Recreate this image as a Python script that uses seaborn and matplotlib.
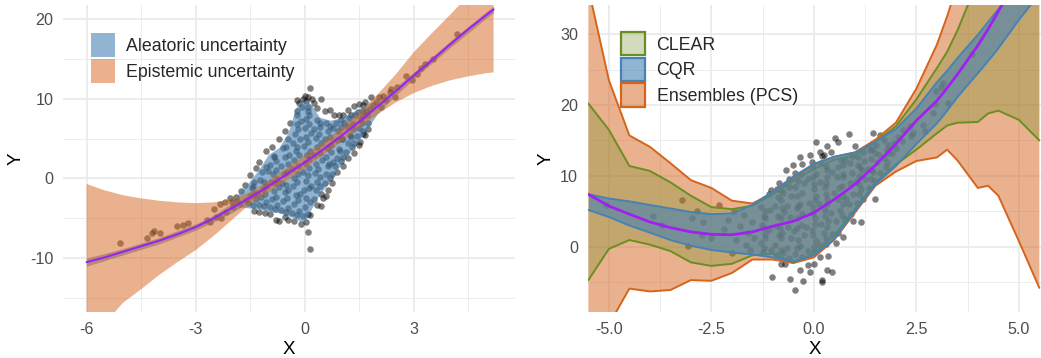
import matplotlib
matplotlib.use("Agg")
import matplotlib.pyplot as plt
import seaborn as sns
from matplotlib.patches import Patch
from matplotlib.colors import to_rgba

# ---- left panel: fitted curve, aleatoric + epistemic bands ----
fit_x = [-6, -5.5, -5, -4.5, -4, -3.5, -3, -2.5, -2, -1.5, -1, -0.5, 0, 0.5,
         1, 1.5, 2, 2.5, 3, 3.5, 4, 4.5, 5, 5.2]
fit_y = [-10.5, -9.9, -9.2, -8.5, -7.8, -7.0, -6.1, -5.0, -3.7, -2.4, -1.0, 0.5,
         2.0, 3.6, 5.3, 7.1, 9.0, 10.9, 12.9, 14.8, 16.8, 18.7, 20.5, 21.2]
epi_lo = [-20.5, -18.2, -15.6, -13.9, -12.1, -10.5, -9.0, -7.2, -5.2, -3.2, -1.8, -0.3,
          1.2, 2.9, 4.5, 6.3, 8.0, 9.5, 10.7, 11.6, 12.3, 12.8, 13.2, 13.3]
epi_hi = [-0.7, -1.5, -2.1, -2.5, -2.8, -3.0, -3.1, -3.0, -2.6, -1.7, -0.3, 1.3,
          2.9, 4.5, 6.3, 8.3, 10.5, 13.0, 15.8, 18.2, 20.5, 22.9, 25.3, 26.3]

ale_x = [-6, -5, -4, -3, -2.5, -2.0, -1.75, -1.5, -1.25, -1.0, -0.7, -0.45, -0.25,
         -0.1, 0.05, 0.2, 0.4, 0.7, 1.0, 1.3, 1.5, 1.75, 2.0, 2.3, 2.6, 3, 4, 5, 5.2]
ale_lo = [-11.0, -9.6, -8.2, -6.5, -5.4, -4.3, -3.6, -3.7, -3.85, -4.1, -4.3, -4.7, -5.0,
          -5.5, -5.1, -3.7, -2.1, -0.3, 1.8, 3.6, 4.8, 6.4, 8.1, 9.5, 10.8, 12.5, 16.4, 20.1, 20.8]
ale_hi = [-10.0, -8.8, -7.4, -5.7, -4.6, -3.1, -1.5, -0.3, 1.2, 3.0, 3.9, 5.8, 8.8,
          9.6, 9.8, 9.2, 7.7, 7.3, 7.6, 8.3, 8.8, 9.4, 9.7, 10.7, 11.8, 13.3, 17.2, 20.9, 21.6]

left_points = [
    # left tail
    (-5.08, -8.07), (-4.35, -7.45), (-4.21, -6.86), (-4.15, -6.65), (-3.98, -6.86),
    (-3.52, -5.95), (-3.34, -5.8), (-3.2, -5.6), (-2.7, -5.27), (-2.61, -5.5),
    (-2.5, -3.8), (-2.43, -4.86), (-2.34, -3.2), (-2.3, -4.9), (-2.2, -3.0),
    (-2.15, -4.2), (-2.06, -2.5), (-1.97, -3.6), (-1.88, -2.3), (-1.79, -3.2),
    (-2.0, -3.0), (-1.85, -2.8),
    # right tail
    (4.19, 18.15), (3.53, 15.0), (3.32, 14.3), (3.19, 13.8), (3.09, 13.05),
    (2.95, 12.4), (2.79, 12.8), (2.54, 11.5), (2.38, 11.25), (2.34, 10.8),
    (2.17, 10.4), (2.06, 10.2), (1.97, 9.6), (1.88, 9.2), (1.83, 10.2),
    (1.79, 8.75), (1.7, 8.4), (1.6, 9.2), (1.53, 4.55), (1.74, 6.2),
    (2.5, 10.2), (2.25, 9.8), (2.1, 8.9),
    # centre cloud
    (-1.55, -3.1), (-1.5, -2.2), (-1.45, -1.2), (-1.6, -2.7), (-1.4, -0.5),
    (-1.25, -3.3), (-1.2, -2.3), (-1.15, -1.3), (-1.22, -0.2), (-1.18, 0.8), (-1.3, -1.8),
    (-0.95, -3.6), (-0.9, -2.6), (-0.85, -1.6), (-0.92, -0.5), (-0.88, 0.6), (-0.95, 1.7),
    (-0.85, 2.7), (-0.65, -3.9), (-0.6, -2.8), (-0.55, -1.7), (-0.62, -0.6), (-0.58, 0.5),
    (-0.66, 1.6), (-0.55, 2.7), (-0.6, 3.8), (-0.7, -1.1),
    (-0.35, -4.3), (-0.3, -3.2), (-0.25, -2.1), (-0.32, -1.0), (-0.28, 0.1), (-0.35, 1.2),
    (-0.3, 2.3), (-0.25, 3.4), (-0.33, 4.5), (-0.27, 5.6), (-0.22, 6.8), (-0.2, 7.9),
    (-0.05, -4.7), (0.0, -3.6), (0.05, -2.5), (-0.02, -1.4), (0.03, -0.3), (-0.04, 0.8),
    (0.02, 1.9), (0.06, 3.0), (-0.03, 4.1), (0.04, 5.2), (0.0, 6.3), (0.05, 7.4),
    (0.08, 8.5), (-0.08, 9.0),
    (0.25, -2.6), (0.3, -1.5), (0.35, -0.4), (0.28, 0.7), (0.32, 1.8), (0.26, 2.9),
    (0.34, 4.0), (0.3, 5.1), (0.27, 6.2), (0.33, 7.3),
    (0.55, -0.6), (0.6, 0.5), (0.65, 1.6), (0.58, 2.7), (0.62, 3.8), (0.56, 4.9),
    (0.64, 6.0), (0.6, 6.9), (0.85, 1.5), (0.9, 2.6), (0.95, 3.7), (0.88, 4.8),
    (0.92, 5.9), (0.87, 6.9), (1.15, 3.3), (1.2, 4.4), (1.25, 5.5), (1.18, 6.6),
    (1.22, 7.6), (1.45, 5.3), (1.5, 6.3), (1.55, 7.4), (1.48, 8.3), (1.75, 6.9), (1.72, 8.0),
    (-1.35, -2.6), (-1.05, -2.9), (-1.05, -0.9), (-1.0, 0.9), (-0.75, -3.3), (-0.75, -0.1),
    (-0.78, 2.2), (-0.45, -3.7), (-0.45, -1.5), (-0.48, 0.8), (-0.42, 3.0), (-0.45, 5.0),
    (-0.15, -4.1), (-0.12, -1.9), (-0.18, 0.6), (-0.15, 2.9), (-0.12, 5.0), (-0.1, 7.2),
    (0.15, -3.0), (0.18, -0.9), (0.12, 1.3), (0.15, 3.5), (0.18, 5.7), (0.12, 7.9),
    (0.45, -1.9), (0.42, 0.2), (0.48, 2.3), (0.45, 4.4), (0.42, 6.5), (0.75, 0.5),
    (0.78, 2.1), (0.72, 4.2), (0.78, 6.3), (1.05, 2.7), (1.02, 4.9), (1.08, 7.0),
    (1.35, 4.4), (1.32, 6.2), (1.38, 7.9), (1.62, 6.0), (1.6, 7.8),
    (-1.42, -3.3), (-1.38, -2.0), (-1.41, -0.9), (-1.12, -3.5), (-1.08, -2.0),
    (-1.11, -0.4), (-1.07, 1.4), (-0.82, -3.8), (-0.79, -2.3), (-0.81, -0.6),
    (-0.78, 1.0), (-0.83, 2.8), (-0.52, -4.2), (-0.49, -2.5), (-0.51, -0.8),
    (-0.47, 1.8), (-0.52, 3.9), (-0.21, -4.6), (-0.18, -2.7), (-0.22, -0.4),
    (-0.19, 1.6), (-0.21, 4.0), (-0.17, 6.2), (-0.2, 8.4), (0.1, -4.4), (0.12, -1.2),
    (0.08, 0.4), (0.11, 2.5), (0.09, 4.6), (0.12, 6.8), (0.1, 8.9), (0.41, -1.0),
    (0.38, 1.2), (0.42, 3.2), (0.39, 5.6), (0.41, 7.0), (0.71, 0.1), (0.68, 1.8),
    (0.72, 3.3), (0.69, 5.2), (0.71, 6.6), (1.01, 2.2), (0.98, 3.5), (1.02, 5.0),
    (0.99, 6.4), (1.01, 7.3), (1.31, 4.0), (1.28, 5.2), (1.32, 6.8), (1.29, 7.9),
    (1.61, 5.6), (1.58, 6.9), (1.6, 8.5),
    # centre outliers
    (-0.05, 9.9), (0.0, 10.4), (0.05, 9.7), (0.1, 10.2), (0.15, 11.4), (0.2, 10.0),
    (-0.15, 9.4), (-0.2, 9.8), (0.25, 9.5), (0.35, 8.8), (0.45, 10.0), (0.55, 8.4),
    (0.7, 8.6), (0.8, 7.9), (0.95, 8.0), (1.05, 7.9), (1.2, 8.6), (1.35, 9.1),
    (1.5, 9.3), (1.65, 9.6), (-0.4, 7.0), (-0.55, 6.0), (-0.7, 5.0), (-0.9, 4.0),
    (-1.05, 3.4), (-1.25, 2.0), (-1.35, 1.3), (-1.5, 0.4), (-1.65, -0.8), (-1.75, -1.6),
    (-0.3, -5.3), (-0.45, -5.2), (-0.55, -4.8), (-0.7, -5.3), (-0.8, -5.2), (-0.95, -4.5),
    (-1.1, -4.3), (-1.25, -4.2), (-1.4, -4.1), (-0.1, -5.7), (0.05, -5.5), (0.15, -4.6),
    (0.09, -6.7), (0.14, -8.8), (0.35, -3.3), (0.5, -2.4), (0.65, -1.5), (0.75, -0.6),
    (0.9, 0.8), (1.05, 1.5), (1.2, 2.6), (1.35, 3.2), (1.5, 4.2), (1.65, 5.4),
    (0.6, -2.2), (0.45, -3.5),
]

# ---- right panel: CLEAR / CQR / ensemble intervals ----
grid_x = [-5.5, -5, -4.5, -4, -3.5, -3, -2.5, -2, -1.5, -1, -0.5, 0, 0.5, 1, 1.5,
          2, 2.5, 3, 3.25, 3.5, 4, 4.25, 4.5, 5, 5.5]
mid_y = [7.4, 5.75, 4.6, 3.5, 2.7, 2.1, 1.75, 1.7, 2.1, 2.9, 3.6, 4.8, 6.7, 8.8, 11.5,
         14.5, 17.8, 20.6, 22.4, 24.3, 28.4, 30.7, 33.2, 38.5, 44.0]
cqr_lo = [5.2, 4.2, 3.0, 2.0, 0.95, 0.15, -0.45, -0.8, -1.1, -1.5, -2.1, -1.2, 1.1, 5.0,
          8.8, 11.4, 14.5, 17.4, 19.2, 21.1, 24.5, 26.2, 28.0, 32.0, 35.7]
cqr_hi = [7.4, 6.8, 6.4, 5.9, 5.4, 4.9, 4.6, 4.7, 5.9, 7.8, 9.9, 11.7, 12.7, 13.3, 14.8,
          16.6, 19.5, 23.2, 24.8, 26.6, 29.9, 31.7, 33.5, 37.0, 40.5]
clear_lo = [-4.7, -0.3, 0.95, 0.3, -0.6, -2.2, -2.7, -2.4, -1.2, -1.0, -2.2, -1.0, 1.6,
            5.3, 9.0, 11.6, 13.7, 16.0, 17.1, 17.5, 17.6, 18.8, 19.2, 17.9, 15.0]
clear_hi = [20.2, 16.5, 11.4, 10.7, 9.1, 7.2, 5.6, 5.3, 5.8, 7.4, 9.3, 11.0, 12.3, 12.9,
            14.8, 17.0, 20.8, 25.2, 27.5, 30.5, 37.5, 41.0, 44.0, 50.0, 55.0]
pcs_lo = [-16.0, -11.0, -5.9, -6.3, -6.1, -4.7, -4.8, -3.7, -1.8, -1.8, -2.3, -1.5, 1.0,
          4.8, 8.6, 10.6, 12.1, 12.6, 13.7, 12.2, 8.3, 8.6, 7.2, 0.8, -5.8]
pcs_hi = [36.5, 23.5, 15.7, 14.1, 11.8, 9.4, 8.3, 6.5, 6.1, 7.6, 9.6, 11.5, 12.7, 13.3,
          15.1, 17.5, 22.3, 28.5, 32.5, 37.0, 45.0, 48.0, 51.0, 57.0, 62.0]

right_points = [
    # left tail
    (-5.06, 5.9), (-3.92, 4.4), (-3.7, 3.1), (-3.21, 6.6), (-3.08, 0.15), (-2.98, 4.0),
    (-2.86, 5.04), (-2.74, 1.6), (-2.7, 3.5), (-2.5, 1.2), (-2.32, 5.9), (-2.0, -0.9),
    (-2.2, 2.5), (-1.9, 1.0), (-1.8, 3.0), (-1.7, 4.5), (-1.65, 0.2), (-1.6, 2.0),
    (-1.55, -0.5), (-1.5, 3.5), (-1.45, 1.2), (-2.1, 3.8), (-1.95, 5.0),
    # right tail
    (3.85, 27.2), (3.15, 23.1), (3.1, 22.6), (2.99, 22.0), (2.96, 20.2), (3.27, 20.3),
    (2.91, 18.8), (2.67, 17.2), (2.71, 16.3), (2.42, 16.0), (2.18, 16.5), (2.34, 17.1),
    (2.38, 15.6), (2.14, 14.9), (2.0, 14.0), (2.05, 15.5), (1.9, 13.2), (1.95, 14.6),
    # below the band
    (-0.46, -6.1), (-1.01, -4.2), (-0.58, -4.6), (-0.26, -4.85), (0.21, -4.7),
    (0.45, -3.55), (0.31, -3.3), (-0.34, -3.3), (-0.1, -3.55), (0.15, -1.4),
    (0.35, -1.3), (0.55, 0.5), (0.72, 1.4), (0.96, 3.7), (1.16, 3.5), (1.49, 6.8),
    (-0.71, -2.4), (-0.79, -2.4), (0.2, -5.0), (0.0, -2.5), (-0.15, -2.6),
    # above the band
    (0.06, 14.8), (0.59, 14.8), (0.51, 15.4), (0.86, 15.9), (1.45, 16.0), (1.61, 15.7),
    (0.31, 14.2), (0.15, 13.3), (0.43, 13.3), (-0.34, 12.7), (-0.1, 12.9), (-0.5, 11.5),
    (-0.3, 11.7), (-0.67, 10.8), (-0.91, 8.2), (1.0, 14.2), (0.2, 12.8), (0.25, 13.0),
    (-0.05, 12.0), (-0.45, 10.4), (-0.6, 9.5), (-0.85, 9.0), (-1.05, 8.0), (-1.1, 7.5),
    # inside the band
    (-1.25, -0.8), (-1.3, 0.5), (-1.2, 1.8), (-1.27, 3.1), (-1.22, 4.4), (-1.3, 5.6),
    (-0.9, -1.2), (-0.95, 0.2), (-0.85, 1.6), (-0.92, 3.0), (-0.88, 4.4), (-0.95, 5.8),
    (-0.87, 7.0), (-0.6, -1.6), (-0.65, -0.2), (-0.55, 1.3), (-0.62, 2.8), (-0.58, 4.2),
    (-0.66, 5.7), (-0.55, 7.1), (-0.6, 8.5), (-0.3, -1.4), (-0.35, 0.1), (-0.25, 1.6),
    (-0.32, 3.1), (-0.28, 4.6), (-0.35, 6.1), (-0.3, 7.6), (-0.25, 9.0), (-0.32, 10.2),
    (0.0, -0.8), (0.05, 0.8), (-0.04, 2.4), (0.03, 4.0), (-0.02, 5.6), (0.04, 7.2),
    (0.0, 8.8), (0.06, 10.3), (-0.03, 11.2), (0.3, 0.4), (0.25, 2.0), (0.34, 3.6),
    (0.28, 5.2), (0.32, 6.8), (0.26, 8.4), (0.33, 9.9), (0.3, 11.4), (0.6, 2.0),
    (0.55, 3.6), (0.64, 5.2), (0.58, 6.8), (0.62, 8.3), (0.56, 9.8), (0.6, 11.3),
    (0.65, 12.3), (0.9, 4.6), (0.85, 6.0), (0.95, 7.5), (0.88, 9.0), (0.92, 10.4),
    (0.87, 11.8), (0.93, 12.8), (1.2, 6.8), (1.15, 8.2), (1.25, 9.5), (1.18, 10.8),
    (1.22, 12.1), (1.2, 13.3), (1.5, 9.3), (1.45, 10.6), (1.55, 11.9), (1.48, 13.2),
    (1.52, 14.3), (1.75, 11.2), (1.7, 12.5), (1.78, 13.7), (1.72, 15.0),
    (-1.05, -0.5), (-1.1, 2.4), (-1.08, 5.2), (-0.75, -0.9), (-0.78, 1.9), (-0.72, 4.9),
    (-0.75, 7.6), (-0.45, -1.0), (-0.48, 2.2), (-0.42, 5.4), (-0.45, 8.4), (-0.15, -0.6),
    (-0.18, 2.8), (-0.12, 6.2), (-0.15, 9.6), (0.15, 0.2), (0.18, 3.2), (0.12, 6.0),
    (0.15, 9.1), (0.18, 11.8), (0.45, 1.8), (0.42, 4.8), (0.48, 7.6), (0.45, 10.6),
    (0.75, 3.9), (0.78, 6.8), (0.72, 9.8), (0.75, 12.3), (1.05, 6.2), (1.02, 9.2),
    (1.08, 11.5), (1.35, 8.3), (1.32, 11.0), (1.38, 13.6), (1.62, 10.4), (1.6, 13.0),
    (-1.21, -0.2), (-1.18, 1.2), (-1.22, 2.6), (-1.19, 4.0), (-1.2, 5.0),
    (-0.81, -0.4), (-0.79, 1.2), (-0.82, 2.6), (-0.8, 4.0), (-0.78, 5.4), (-0.81, 6.6),
    (-0.79, 8.0), (-0.41, -0.2), (-0.39, 1.0), (-0.42, 2.6), (-0.4, 4.0), (-0.38, 5.8),
    (-0.41, 7.2), (-0.39, 9.3), (0.01, 0.0), (-0.02, 1.6), (0.02, 3.2), (-0.01, 4.8),
    (0.02, 6.6), (0.0, 8.1), (-0.02, 9.8), (0.29, 1.2), (0.31, 2.8), (0.28, 4.4),
    (0.32, 6.0), (0.3, 7.4), (0.29, 9.0), (0.31, 10.8), (0.69, 4.5), (0.71, 6.0),
    (0.7, 7.2), (0.68, 8.6), (0.72, 10.2), (0.7, 11.6), (1.09, 7.5), (1.11, 8.8),
    (1.1, 10.0), (1.12, 11.2), (1.08, 12.6), (1.39, 9.5), (1.41, 10.8), (1.4, 12.4),
    (1.42, 13.8), (1.79, 12.0), (1.81, 13.2), (1.8, 14.3),
]

BLUE = "#4682B4"
ORANGE = "#D5651D"
GREEN = "#6B8E23"
PURPLE = "#A020F0"
GRID = "#EBEBEB"

sns.set_theme(style="white")
plt.rcParams["font.family"] = ["Liberation Sans", "DejaVu Sans"]
plt.rcParams["axes.unicode_minus"] = False


def style_axis(ax, xt, xminor, yt, yminor, xlim, ylim, xlabels=None):
    ax.set_xlim(xlim)
    ax.set_ylim(ylim)
    ax.set_xticks(xt)
    if xlabels is not None:
        ax.set_xticklabels(xlabels)
    ax.set_xticks(xminor, minor=True)
    ax.set_yticks(yt)
    ax.set_yticks(yminor, minor=True)
    ax.grid(which="major", color=GRID, lw=1.3)
    ax.grid(which="minor", color=GRID, lw=0.65)
    ax.set_axisbelow(True)
    for sp in ax.spines.values():
        sp.set_visible(False)
    ax.tick_params(which="both", length=0, pad=7, labelsize=11.6, labelcolor="#4D4D4D")
    ax.set_xlabel("X", fontsize=13.5, color="black", labelpad=3)
    ax.set_ylabel("Y", fontsize=13.5, color="black", labelpad=4)


fig = plt.figure(figsize=(10.41, 3.58), dpi=100)
ax1 = fig.add_axes([0.0605, 0.1285, 0.4342, 0.8575])
ax2 = fig.add_axes([0.5648, 0.1285, 0.4352, 0.8575])

# left
lx, ly = zip(*left_points)
sns.scatterplot(x=list(lx), y=list(ly), ax=ax1, color="black", alpha=0.5, s=22,
                linewidth=0, zorder=2)
ax1.fill_between(ale_x, ale_lo, ale_hi, color=BLUE, alpha=0.6, lw=0, zorder=3)
ax1.fill_between(fit_x, epi_lo, epi_hi, color=ORANGE, alpha=0.5, lw=0, zorder=4)
sns.lineplot(x=fit_x, y=fit_y, ax=ax1, color=PURPLE, lw=1.5, zorder=5)
style_axis(ax1, [-6, -3, 0, 3], [-4.5, -1.5, 1.5, 4.5], [-10, 0, 10, 20],
           [-15, -5, 5, 15], (-6.65, 5.79), (-16.75, 21.75))
ax1.legend(handles=[Patch(facecolor=to_rgba(BLUE, 0.6), edgecolor="none",
                          label="Aleatoric uncertainty"),
                    Patch(facecolor=to_rgba(ORANGE, 0.5), edgecolor="none",
                          label="Epistemic uncertainty")],
           loc="upper left", bbox_to_anchor=(0.062, 0.909), frameon=False,
           fontsize=12.8, handlelength=1.35, handleheight=1.7, handletextpad=0.62,
           labelspacing=0.11, borderpad=0, borderaxespad=0)

# right
rx, ry = zip(*right_points)
sns.scatterplot(x=list(rx), y=list(ry), ax=ax2, color="black", alpha=0.5, s=22,
                linewidth=0, zorder=2)
bands = [(pcs_lo, pcs_hi, ORANGE, 0.5, 3), (clear_lo, clear_hi, GREEN, 0.3, 4),
         (cqr_lo, cqr_hi, BLUE, 0.6, 5)]
for lo, hi, col, a, z in bands:
    ax2.fill_between(grid_x, lo, hi, color=col, alpha=a, lw=0, zorder=z)
    ax2.plot(grid_x, lo, color=col, lw=1.4, zorder=z + 0.1)
    ax2.plot(grid_x, hi, color=col, lw=1.4, zorder=z + 0.1)
sns.lineplot(x=grid_x, y=mid_y, ax=ax2, color=PURPLE, lw=2.0, zorder=6)
style_axis(ax2, [-5, -2.5, 0, 2.5, 5], [-3.75, -1.25, 1.25, 3.75], [0, 10, 20, 30],
           [-5, 5, 15, 25], (-5.51, 5.54), (-9.2, 34.1),
           xlabels=["-5.0", "-2.5", "0.0", "2.5", "5.0"])
ax2.legend(handles=[Patch(facecolor=to_rgba(GREEN, 0.3), edgecolor=GREEN, lw=1.6, label="CLEAR"),
                    Patch(facecolor=to_rgba(BLUE, 0.6), edgecolor=BLUE, lw=1.6, label="CQR"),
                    Patch(facecolor=to_rgba(ORANGE, 0.5), edgecolor=ORANGE, lw=1.6,
                          label="Ensembles (PCS)")],
           loc="upper left", bbox_to_anchor=(0.074, 0.912), frameon=False,
           fontsize=12.8, handlelength=1.35, handleheight=1.65, handletextpad=0.62,
           labelspacing=0.13, borderpad=0, borderaxespad=0)

fig.savefig("out.png", dpi=100)
